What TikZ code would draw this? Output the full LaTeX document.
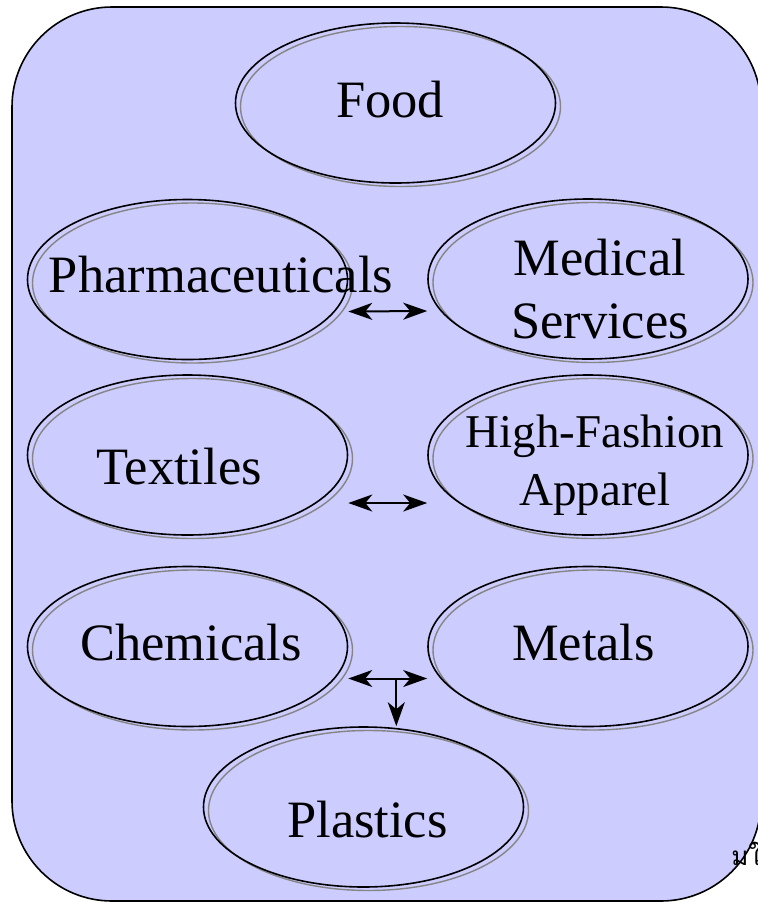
\documentclass[tikz,border=0pt]{standalone}
\usepackage{fontspec}
\setmainfont{Liberation Serif}
\newfontfamily\thaifont[Script=Thai]{Loma}
\usetikzlibrary{
  arrows.meta,
  shapes.geometric,
  shadows,
  calc
}
\definecolor{mkPanel}{HTML}{CCCCFF}
\definecolor{mkEcho}{HTML}{858585}
\tikzset{
  sector/.style={
    draw, ellipse, line width=0.8pt, minimum width=160pt, minimum height=80pt,
    inner sep=0pt,
    general shadow={shadow xshift=2.5pt, shadow yshift=-1.75pt, draw=mkEcho, line width=0.7pt}
  },
  sectortext/.style={font=\fontsize{26.25}{31.5}\selectfont, align=center, inner sep=0pt},
  smalltext/.style={sectortext, font=\fontsize{23.5}{29}\selectfont},
  panel/.style={draw, line width=0.8pt, fill=mkPanel, rounded corners=50pt},
  link/.style={{Stealth[length=12pt, width=8.5pt, inset=3.5pt]}-{Stealth[length=12pt, width=8.5pt, inset=3.5pt]}, line width=1pt},
  feed/.style={-{Stealth[length=12pt, width=8.5pt, inset=3.5pt]}, line width=1pt},
  note/.style={font=\thaifont\fontsize{13}{15}\selectfont, anchor=base west, inner sep=0pt}
}
\begin{document}
\begin{tikzpicture}[x=0.5pt, y=-0.5pt]
  \useasboundingbox (0,0) rectangle (758,902);
  \draw[panel] (12,7) rectangle (761,901);

  % sectors
  \node[sector] (food) at (395.5,103) {};
  \node[sector] (pharma) at (187.5,279.5) {};
  \node[sector] (medical) at (588,279) {};
  \node[sector] (textiles) at (187.5,455) {};
  \node[sector] (fashion) at (588,455) {};
  \node[sector] (chem) at (187.5,646.5) {};
  \node[sector] (metals) at (588,646.5) {};
  \node[sector] (plastics) at (363.5,807) {};

  % labels
  \node[sectortext, anchor=base] (food-t) at (390,117) {Food};
  \node[sectortext, anchor=base] (pharma-t) at (221,292) {Pharmaceuticals};
  \node[sectortext] (medical-t) at (600,289.5) {Medical\\Services};
  \node[sectortext, anchor=base] (textiles-t) at (179,484) {Textiles};
  \node[smalltext] (fashion-t) at (595,465) {High-Fashion\\Apparel};
  \node[sectortext, anchor=base] (chem-t) at (191,660) {Chemicals};
  \node[sectortext, anchor=base] (metals-t) at (583.5,660) {Metals};
  \node[sectortext, anchor=base] (plastics-t) at (367.5,837) {Plastics};
  \node[note] (tag) at (731,865) {มใ};

  % links
  \draw[link] ([yshift=-16pt]pharma.east) -- ([yshift=-16pt]medical.west);
  \draw[link] ([yshift=-24pt]textiles.east) -- ([yshift=-24pt]fashion.west);
  \draw[link] ([yshift=-16pt]chem.east) -- ([yshift=-16pt]metals.west);
  \coordinate (split) at ([xshift=24pt, yshift=-16pt]chem.east);
  \draw[feed] (split) -- (split |- plastics.north);
\end{tikzpicture}
\end{document}
